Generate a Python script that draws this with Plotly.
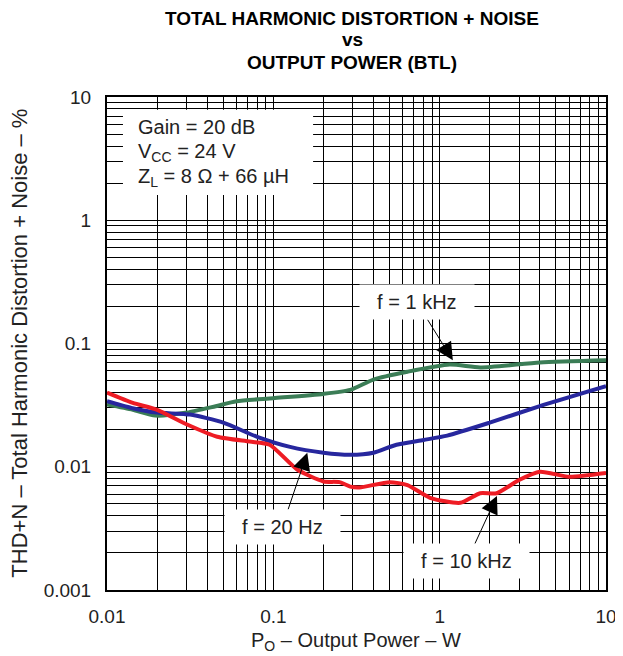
import math
import plotly.graph_objects as go

# ---- data ----
x_1k = [0.01, 0.0143, 0.0195, 0.0303, 0.045, 0.06, 0.1, 0.2, 0.29, 0.4, 0.64, 1.15, 1.75, 4.0, 10]
y_1k = [0.032, 0.029, 0.026, 0.0275, 0.031, 0.034, 0.036, 0.039, 0.042, 0.051, 0.059, 0.0675, 0.064, 0.070, 0.073]

x_20 = [0.01, 0.014, 0.02, 0.0316, 0.05, 0.08, 0.126, 0.2, 0.29, 0.4, 0.55, 0.8, 1.11, 2.0, 4.0, 10]
y_20 = [0.034, 0.030, 0.0275, 0.0265, 0.0228, 0.0175, 0.0145, 0.013, 0.0125, 0.013, 0.0151, 0.0165, 0.0179, 0.0228, 0.031, 0.045]

x_10k = [0.01, 0.0143, 0.02, 0.0303, 0.046, 0.072, 0.095, 0.139, 0.2, 0.25, 0.29, 0.33, 0.5, 0.64, 0.875, 1.33, 1.75, 2.2, 3.0, 4.0, 6.0, 10]
y_10k = [0.040, 0.033, 0.029, 0.022, 0.0175, 0.016, 0.0151, 0.0095, 0.0076, 0.0075, 0.0069, 0.0068, 0.0075, 0.0071, 0.0056, 0.0051, 0.0061, 0.0061, 0.0078, 0.0091, 0.0083, 0.0089]

x_decades = [0.01, 0.1, 1, 10]
x_labels = ["0.01", "0.1", "1", "10"]
y_decades = [0.001, 0.01, 0.1, 1, 10]
y_labels = ["0.001", "0.01", "0.1", "1", "10"]

# curve labels: text, arrow-tip x, arrow-tip y
label_text = ["f = 1 kHz", "f = 20 Hz", "f = 10 kHz"]
label_x = [1.2, 0.16, 2.21]
label_y = [0.073, 0.013, 0.0058]

FONT = "Liberation Sans, Arial, sans-serif"
TXT = "#222"


def grid_ticks(decades, labels):
    vals, texts = [], []
    for i, d in enumerate(decades):
        vals.append(d)
        texts.append(labels[i])
        if i < len(decades) - 1:
            for m in range(2, 10):
                vals.append(d * m)
                texts.append(" ")
    return vals, texts


xv, xt = grid_ticks(x_decades, x_labels)
yv, yt = grid_ticks(y_decades, y_labels)

fig = go.Figure()
fig.add_trace(go.Scatter(x=x_1k, y=y_1k, mode="lines", line=dict(color="#3b7d56", width=4, shape="spline", smoothing=0.6)))
fig.add_trace(go.Scatter(x=x_20, y=y_20, mode="lines", line=dict(color="#27279e", width=4, shape="spline", smoothing=0.6)))
fig.add_trace(go.Scatter(x=x_10k, y=y_10k, mode="lines", line=dict(color="#ee1c24", width=4, shape="spline", smoothing=0.6)))

axis_common = dict(type="log", showgrid=True, gridcolor="black", gridwidth=1,
                   showline=True, linecolor="black", linewidth=2, mirror=True,
                   ticks="", zeroline=False, tickangle=0, automargin=False,
                   tickfont=dict(family=FONT, size=19, color=TXT))
fig.update_xaxes(range=[-2, 1], tickmode="array", tickvals=xv, ticktext=xt, ticklabelstandoff=8, **axis_common)
fig.update_yaxes(range=[-3, 1], tickmode="array", tickvals=yv, ticktext=yt, ticklabelstandoff=10, **axis_common)

# white box behind conditions text
fig.add_shape(type="rect", xref="paper", yref="paper", x0=0.032, x1=0.413, y0=0.801, y1=0.974,
              fillcolor="white", line=dict(width=0), layer="above")

cond = ["Gain = 20 dB", "V<sub>CC</sub> = 24 V", "Z<sub>L</sub> = 8 \u03a9 + 66 \u00b5H"]
cond_y = [0.939, 0.888, 0.836]
for t, yy in zip(cond, cond_y):
    fig.add_annotation(text=t, xref="paper", yref="paper", x=0.058, y=yy, xanchor="left", yanchor="middle",
                       showarrow=False, font=dict(family=FONT, size=20, color=TXT))

offsets = [(-36, -58), (-25, 74), (-30, 65)]
for t, xx, yy, (ax, ay) in zip(label_text, label_x, label_y, offsets):
    fig.add_annotation(text="&nbsp;&nbsp;" + t + "&nbsp;&nbsp;", x=math.log10(xx), y=math.log10(yy),
                       xref="x", yref="y", ax=ax, ay=ay, showarrow=True, arrowhead=2, arrowsize=3.5,
                       arrowwidth=1, arrowcolor="black", bgcolor="white", borderpad=6,
                       font=dict(family=FONT, size=20, color=TXT))

# titles
title_lines = ["TOTAL HARMONIC DISTORTION + NOISE", "vs", "OUTPUT POWER (BTL)"]
title_y = [1.159, 1.117, 1.069]
for t, yy in zip(title_lines, title_y):
    fig.add_annotation(text="<b>" + t + "</b>", xref="paper", yref="paper", x=0.491, y=yy,
                       xanchor="center", yanchor="middle", showarrow=False,
                       font=dict(family=FONT, size=19, color="black"))

fig.add_annotation(text="THD+N \u2013 Total Harmonic Distortion + Noise \u2013 %", xref="paper", yref="paper",
                   x=-0.176, y=0.50, textangle=-90, showarrow=False, xanchor="center", yanchor="middle",
                   font=dict(family=FONT, size=22, color=TXT))
fig.add_annotation(text="P<sub>O</sub> \u2013 Output Power \u2013 W", xref="paper", yref="paper",
                   x=0.499, y=-0.105, showarrow=False, xanchor="center", yanchor="middle",
                   font=dict(family=FONT, size=20, color=TXT))

# page body has an 8px margin, so the figure is sized to fit the 623x656 window
fig.update_layout(width=615, height=648, margin=dict(l=99, r=17, t=89, b=66, autoexpand=False),
                  paper_bgcolor="white", plot_bgcolor="white", showlegend=False)

fig.write_html("out.html")
